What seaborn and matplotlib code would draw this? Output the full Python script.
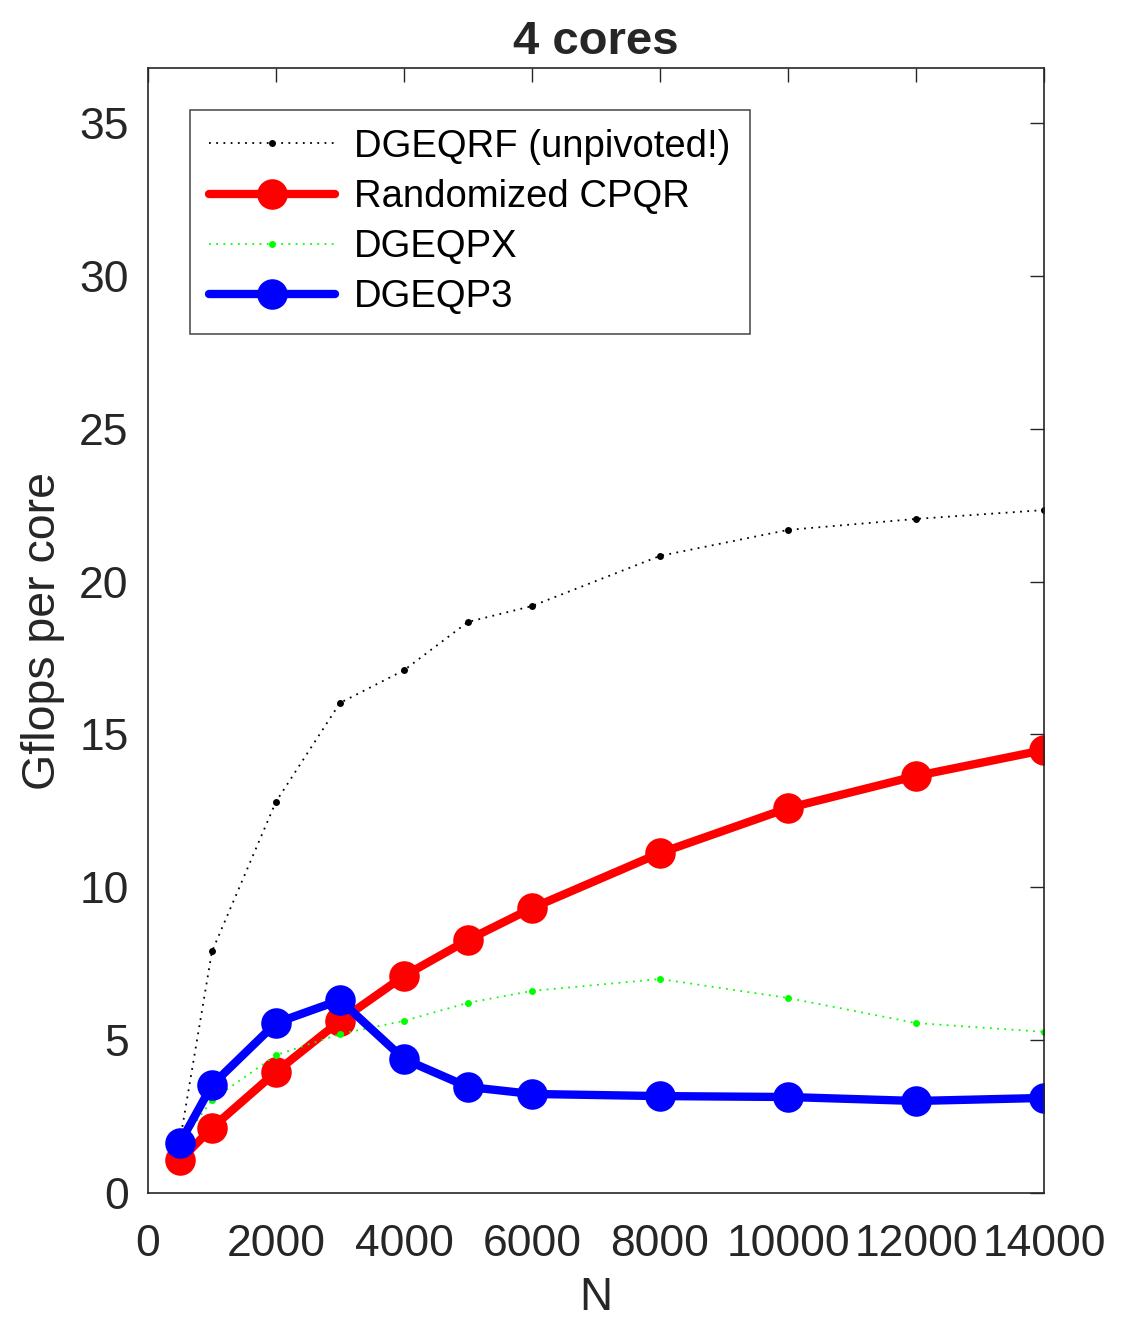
import numpy as np
import pandas as pd
import matplotlib
matplotlib.use("Agg")
import matplotlib.pyplot as plt
import seaborn as sns

# problem sizes and measured Gflops per core (4 cores)
N = [500, 1000, 2000, 3000, 4000, 5000, 6000, 8000, 10000, 12000, 14000]
dgeqrf = [1.7, 7.9, 12.8, 16.03, 17.1, 18.68, 19.2, 20.84, 21.69, 22.05, 22.34]
rand_cpqr = [1.07, 2.13, 3.96, 5.63, 7.1, 8.28, 9.32, 11.12, 12.59, 13.64, 14.49]
dgeqpx = [1.6, 3.04, 4.51, 5.2, 5.63, 6.22, 6.61, 7.0, 6.38, 5.56, 5.27]
dgeqp3 = [1.64, 3.53, 5.56, 6.31, 4.38, 3.47, 3.24, 3.17, 3.14, 3.01, 3.11]

labels = ["DGEQRF (unpivoted!)", "Randomized CPQR", "DGEQPX", "DGEQP3"]

sns.set_style("white")
plt.rcParams["font.family"] = ["Liberation Sans", "DejaVu Sans"]
plt.rcParams["font.size"] = 32

fig = plt.figure(figsize=(11.27, 13.21), dpi=100)
ax = fig.add_axes([0.1313, 0.0969, 0.795, 0.8516])

series = [
    (dgeqrf, labels[0], dict(color="black", lw=1.3, ls=(0, (1, 3)), ms=5)),
    (rand_cpqr, labels[1], dict(color="#ff0000", lw=6, ls="-", ms=22)),
    (dgeqpx, labels[2], dict(color="#00ff00", lw=1.3, ls=(0, (1, 3)), ms=5)),
    (dgeqp3, labels[3], dict(color="#0000ff", lw=6, ls="-", ms=22)),
]
for vals, name, st in series:
    df = pd.DataFrame({"N": N, "gflops": vals})
    sns.lineplot(data=df, x="N", y="gflops", ax=ax, label=name,
                 color=st["color"], linewidth=st["lw"], linestyle=st["ls"],
                 marker="o", markersize=st["ms"],
                 markeredgecolor=st["color"], markeredgewidth=0)

ax.set_xlim(0, 14000)
ax.set_ylim(0, 36.8)
ax.set_xticks(range(0, 14001, 2000))
ax.set_yticks(range(0, 36, 5))
ax.tick_params(direction="in", length=10, width=1, top=True, right=True,
               labelsize=32)
ax.tick_params(axis="x", pad=22)
ax.tick_params(axis="y", pad=14)
for s in ax.spines.values():
    s.set_color("#262626")
    s.set_linewidth(1.2)

ax.set_title("4 cores", fontsize=34, fontweight="bold", pad=10)
ax.set_xlabel("N", fontsize=33, labelpad=8)
ax.set_ylabel("Gflops per core", fontsize=33.5, labelpad=10)

leg = ax.legend(loc="upper left", bbox_to_anchor=(0.047, 0.963), fontsize=27.5,
                frameon=True, fancybox=False, edgecolor="#262626",
                handlelength=3.3, handletextpad=0.5, labelspacing=0.37,
                borderpad=0.5, borderaxespad=0)
leg.get_frame().set_linewidth(1.2)
for t in leg.get_texts():
    t.set_color("black")

plt.savefig("out.png", dpi=100)
plt.close()
